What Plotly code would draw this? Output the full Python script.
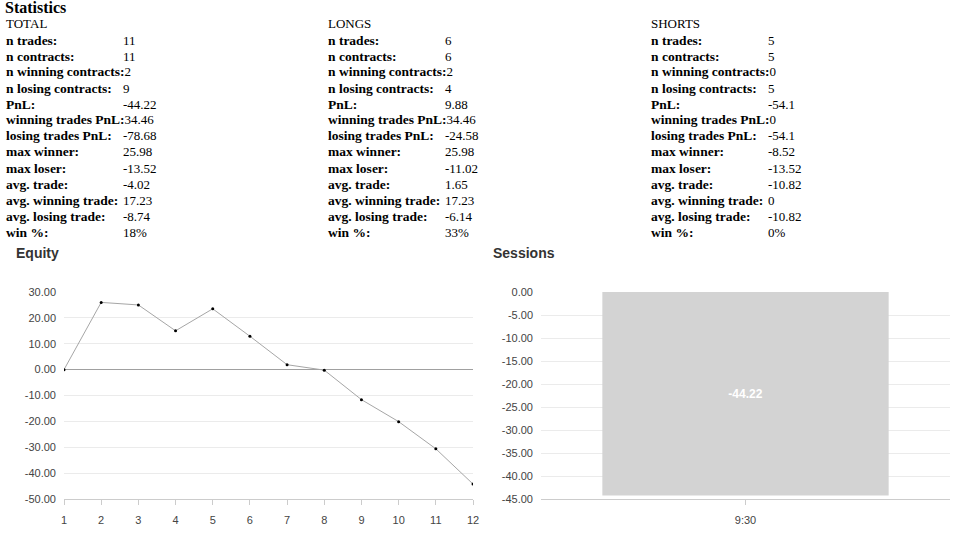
import plotly.graph_objects as go

# statistics table
stat_labels = ["n trades:", "n contracts:", "n winning contracts:", "n losing contracts:",
               "PnL:", "winning trades PnL:", "losing trades PnL:", "max winner:",
               "max loser:", "avg. trade:", "avg. winning trade:", "avg. losing trade:",
               "win %:"]
total_vals = ["11", "11", "2", "9", "-44.22", "34.46", "-78.68", "25.98",
              "-13.52", "-4.02", "17.23", "-8.74", "18%"]
longs_vals = ["6", "6", "2", "4", "9.88", "34.46", "-24.58", "25.98",
              "-11.02", "1.65", "17.23", "-6.14", "33%"]
shorts_vals = ["5", "5", "0", "5", "-54.1", "0", "-54.1", "-8.52",
               "-13.52", "-10.82", "0", "-10.82", "0%"]

# equity curve
trade_num = list(range(1, 13))
equity = [0, 25.98, 25.0, 15.0, 23.5, 12.9, 1.9, -0.2, -11.6, -20.1, -30.6, -44.22]
equity_ticks = [30, 20, 10, 0, -10, -20, -30, -40, -50]

# sessions
sessions = ["9:30"]
session_pnl = [-44.22]
session_ticks = [0, -5, -10, -15, -20, -25, -30, -35, -40, -45]

W, H = 966, 537


def px_x(x):
    return x / W


def px_y(y):
    return 1 - y / H


fig = go.Figure()

fig.add_trace(go.Scatter(
    x=trade_num, y=equity, mode="lines+markers",
    line=dict(color="#a6a6a6", width=1),
    marker=dict(color="#000000", size=3),
    xaxis="x", yaxis="y", hoverinfo="x+y",
))

fig.add_trace(go.Bar(
    x=sessions, y=session_pnl, width=0.7,
    marker=dict(color="#d3d3d3", line=dict(width=0)),
    text=[f"{v:.2f}" for v in session_pnl], textposition="inside",
    insidetextanchor="middle",
    textfont=dict(color="white", size=12, family="Liberation Sans"),
    texttemplate="<b>%{text}</b>",
    xaxis="x2", yaxis="y2",
))

anns = []
serif = "Liberation Serif"


def note(x, y, text, font):
    # annotations carry a couple of px of padding, pull them back left
    anns.append(dict(x=px_x(x), y=px_y(y), xref="paper", yref="paper", text=text,
                     showarrow=False, xanchor="left", yanchor="middle", font=font,
                     xshift=-2))


stat_font = dict(family=serif, size=13, color="black")
label_font = dict(family=serif, size=13.5, color="black")
note(5, 8, "<b>Statistics</b>", dict(family=serif, size=16, color="black"))

# labels that are wider than the label column push their value right
inline_rows = {"n winning contracts:", "winning trades PnL:"}

columns = [("TOTAL", total_vals, 6, 123), ("LONGS", longs_vals, 328, 445),
           ("SHORTS", shorts_vals, 651, 768)]
for head, vals, lx, vx in columns:
    note(lx, 24, head, stat_font)
    for i, (lab, val) in enumerate(zip(stat_labels, vals)):
        yy = 40 + 16 * i
        if lab in inline_rows:
            note(lx, yy, f"<b>{lab}</b><span style='font-size:13px'>{val}</span>", label_font)
        else:
            note(lx, yy, f"<b>{lab}</b>", label_font)
            note(vx, yy, val, stat_font)

for title, tx in [("Equity", 16), ("Sessions", 493)]:
    note(tx, 253, f"<b>{title}</b>", dict(family="Liberation Sans", size=14, color="#333333"))

tick_font = dict(family="Liberation Sans", size=11, color="#444444")

fig.update_layout(
    template="none",
    width=W, height=H,
    margin=dict(l=0, r=0, t=0, b=0),
    paper_bgcolor="white", plot_bgcolor="white",
    showlegend=False,
    annotations=anns,
    xaxis=dict(domain=[px_x(64), px_x(473)], range=[1, 12], tickvals=trade_num,
               showgrid=False, zeroline=False, showline=True, linecolor="#cccccc",
               ticks="outside", ticklen=5, tickcolor="#cccccc", tickfont=tick_font,
               ticklabelstandoff=6, anchor="y", automargin=False, fixedrange=True),
    yaxis=dict(domain=[px_y(499), px_y(292)], range=[-50, 30],
               tickvals=equity_ticks, ticktext=[f"{v:.2f}" for v in equity_ticks],
               showgrid=True, gridcolor="#ebebeb",
               zeroline=True, zerolinecolor="#a0a0a0", zerolinewidth=1,
               tickfont=tick_font, ticks="", ticklabelstandoff=7, anchor="x",
               automargin=False, fixedrange=True),
    xaxis2=dict(domain=[px_x(541), px_x(950)], range=[-0.5, 0.5], type="category",
                showgrid=False, zeroline=False, showline=True, linecolor="#cccccc",
                ticks="outside", ticklen=5, tickcolor="#cccccc", tickfont=tick_font,
                ticklabelstandoff=6, anchor="y2", automargin=False, fixedrange=True),
    yaxis2=dict(domain=[px_y(499), px_y(292)], range=[-45, 0],
                tickvals=session_ticks, ticktext=[f"{v:.2f}" for v in session_ticks],
                showgrid=True, gridcolor="#ebebeb",
                zeroline=False, tickfont=tick_font, ticks="", ticklabelstandoff=7,
                anchor="x2", automargin=False, fixedrange=True),
)

# drop the default 8px body margin so the figure fills the window
fig.write_html("out.html", config={"displayModeBar": False},
               post_script="document.body.style.margin='0';document.body.style.overflow='hidden';")
